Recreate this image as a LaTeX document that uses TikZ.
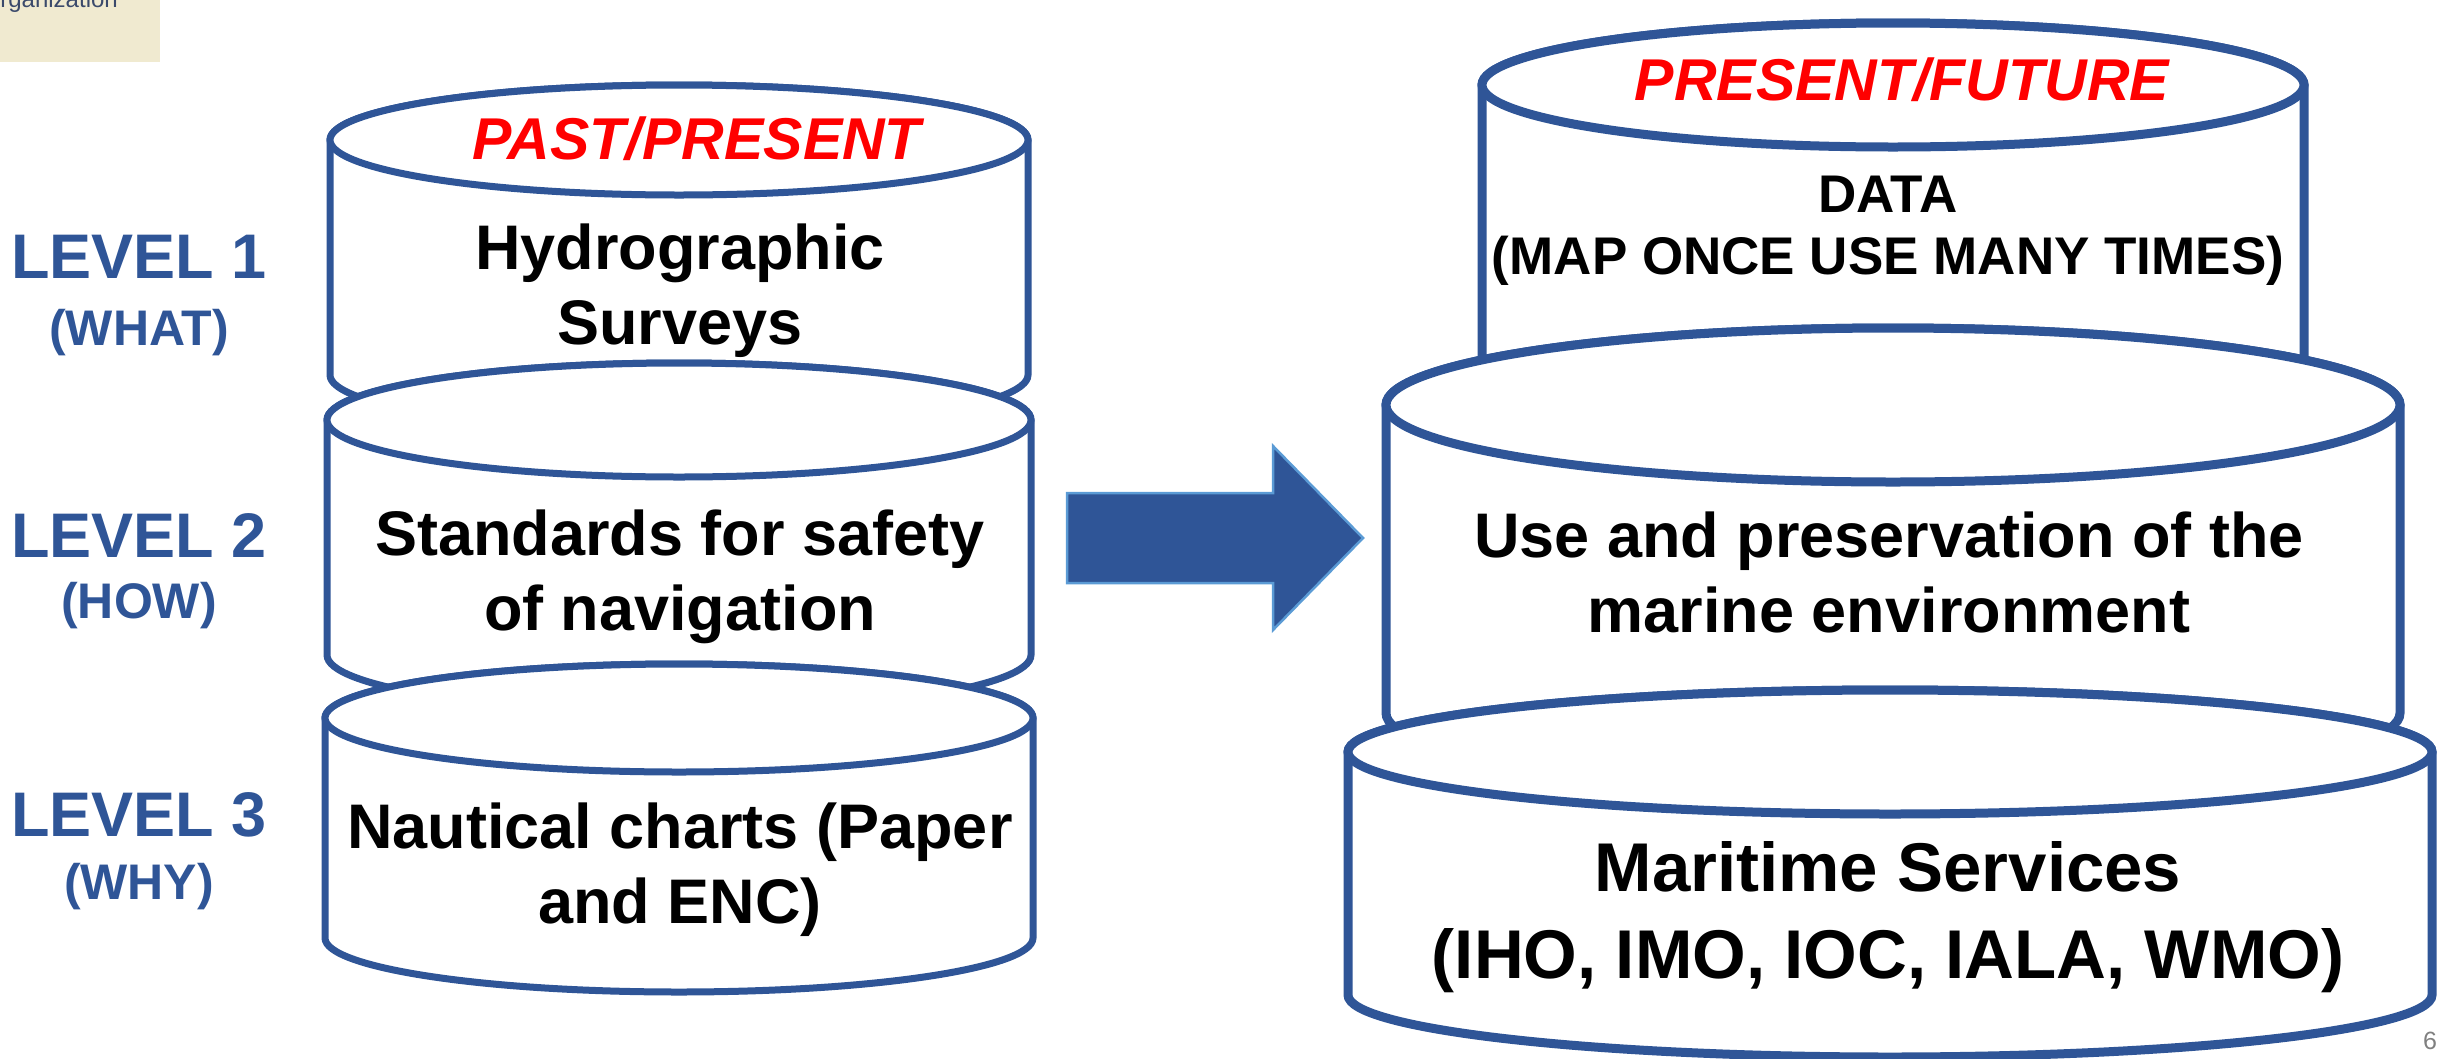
\documentclass[tikz,border=0pt]{standalone}
\usepackage{fontspec}
\setmainfont{Liberation Sans}
\usetikzlibrary{positioning}

\definecolor{drumblue}{RGB}{47,85,151}
\definecolor{arrowedge}{RGB}{91,155,213}
\definecolor{notebeige}{RGB}{240,234,208}
\definecolor{noteink}{RGB}{59,74,107}
\definecolor{pagegray}{RGB}{128,128,128}

% drum: [style] {name}{cx}{top y}{bottom y}{rx}{ry}
\newcommand{\drum}[7][]{%
    \draw[drum, #1] (#3-#6,#4) -- (#3-#6,#5)
        arc[start angle=180, end angle=0, x radius=#6, y radius=#7] -- (#3+#6,#4)
        arc[start angle=0, end angle=-180, x radius=#6, y radius=#7] -- cycle;
    \draw[drum, #1] (#3,#4) ellipse[x radius=#6, y radius=#7];
    \coordinate (#2) at (#3,#4);}

\begin{document}
\begin{tikzpicture}[x=1pt, y=-1pt,
    % drum outline - white body, blue rim
    drum/.style={draw=drumblue, fill=white, line width=7pt},
    % thicker rim for the right stack
    bigdrum/.style={line width=9pt},
    % red era label in the lid
    era/.style={text=red, font=\fontsize{59}{68}\selectfont\bfseries\itshape},
    % black text in the drum body
    body/.style={align=center, font=\fontsize{63}{75}\selectfont\bfseries},
    % level labels on the left
    lvl/.style={text=drumblue, font=\fontsize{63}{70}\selectfont\bfseries},
    lvlsub/.style={text=drumblue, font=\fontsize{50}{56}\selectfont\bfseries},
    % big arrow between the stacks
    bigarrow/.style={fill=drumblue, draw=arrowedge, line width=2.5pt}
]
    \useasboundingbox (0,0) rectangle (2445,1058);
    \clip (0,0) rectangle (2445,1058);

    % cut-off note in the corner
    \fill[notebeige] (0,0) rectangle (160,62);
    \node[text=noteink, font=\fontsize{24}{28}\selectfont, anchor=base east, inner sep=0pt] (org) at (118,7) {Organization};

    % left stack - past/present
    \drum{L1}{679}{140}{375}{349}{55}
    \node[era] (past) at (697,139) {PAST/PRESENT};
    \node[body] (surveys) at (680,291) {Hydrographic\\Surveys};

    \drum{L2}{679}{420}{655}{352}{57}
    \node[body] (standards) at (680,577) {Standards for safety\\of navigation};

    \drum{L3}{679}{718}{938}{354}{54}
    \node[body] (charts) at (680,870) {Nautical charts (Paper\\and ENC)};

    % level labels
    \node[lvl] (lv1) at (139,257) {LEVEL 1};
    \node[lvlsub] (lv1sub) at (139,333) {(WHAT)};
    \node[lvl] (lv2) at (139,535) {LEVEL 2};
    \node[lvlsub] (lv2sub) at (139,606) {(HOW)};
    \node[lvl] (lv3) at (139,815) {LEVEL 3};
    \node[lvlsub] (lv3sub) at (139,887) {(WHY)};

    % right stack - present/future
    \drum[bigdrum]{R1}{1893}{85}{380}{411}{62}
    \node[era] (future) at (1902,80) {PRESENT/FUTURE};
    \node[body, font=\fontsize{53}{62}\selectfont\bfseries] (data) at (1888,231) {DATA\\(MAP ONCE USE MANY TIMES)};

    \drum[bigdrum]{R2}{1893}{405}{713}{507}{77}
    \node[body] (marine) at (1889,572) {Use and preservation of the\\marine environment};

    \drum[bigdrum]{R3}{1890}{752}{995}{542}{62}
    \node[body, font=\fontsize{69}{87}\selectfont\bfseries] (services) at (1888,917) {Maritime Services\\(IHO, IMO, IOC, IALA, WMO)};

    % arrow from the old stack to the new one
    \draw[bigarrow] (1067,493) -- (1273,493) -- (1273,446) -- (1363,538)
        -- (1273,630) -- (1273,583) -- (1067,583) -- cycle;

    % page number
    \node[text=pagegray, font=\fontsize{25}{30}\selectfont] (pagenum) at (2430,1041) {6};
\end{tikzpicture}
\end{document}
